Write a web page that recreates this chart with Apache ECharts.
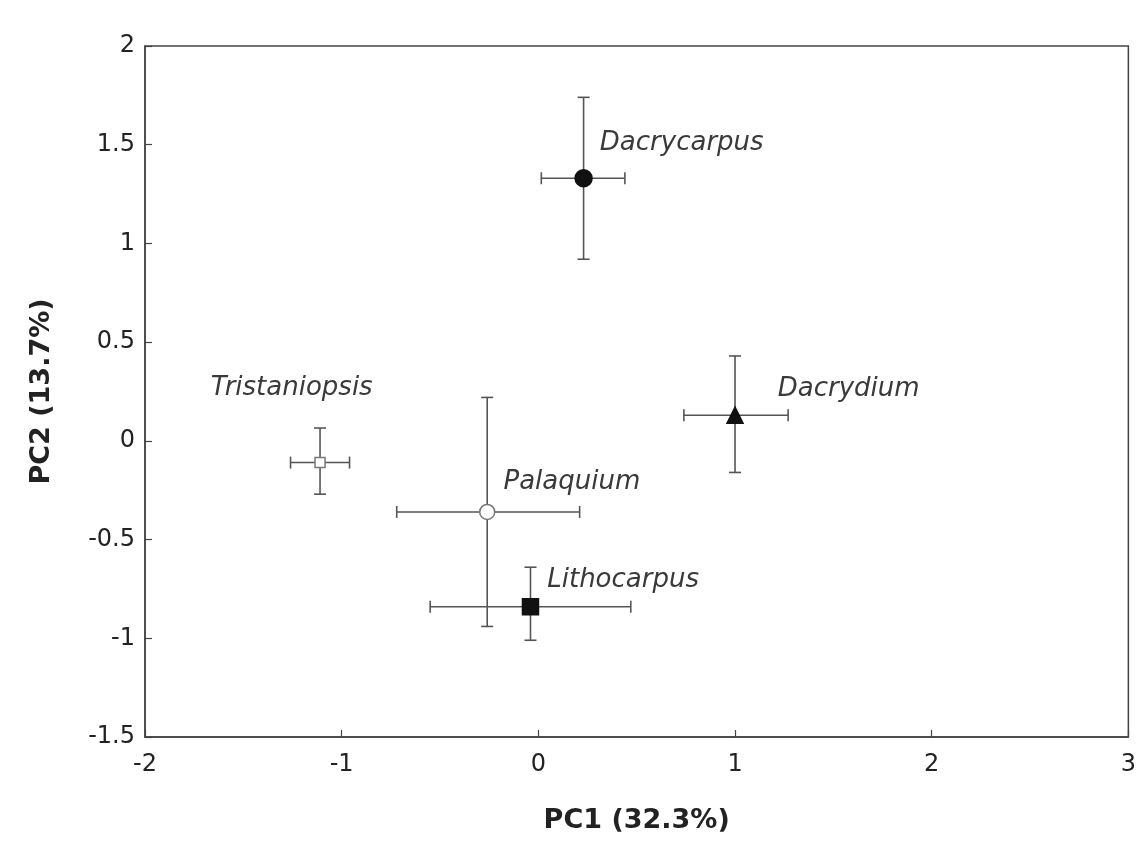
<!DOCTYPE html>
<html>
<head>
<meta charset="utf-8">
<script src="https://cdn.jsdelivr.net/npm/echarts@6/dist/echarts.min.js"></script>
<style>html,body{margin:0;padding:0;background:#fff;}#c{width:1139px;height:842px;}</style>
</head>
<body>
<div id="c"></div>
<script>
var genera = ['Dacrycarpus', 'Dacrydium', 'Tristaniopsis', 'Palaquium', 'Lithocarpus'];
var pc1 = [0.23, 1.0, -1.11, -0.26, -0.04];
var pc2 = [1.33, 0.13, -0.11, -0.36, -0.84];
var pc1Low = [0.015, 0.74, -1.26, -0.72, -0.55];
var pc1High = [0.44, 1.27, -0.96, 0.21, 0.47];
var pc2Low = [0.92, -0.16, -0.27, -0.94, -1.01];
var pc2High = [1.74, 0.43, 0.065, 0.22, -0.64];

var symbols = ['circle', 'triangle', 'rect', 'circle', 'rect'];
var sizes = [17, 16, 10, 15, 16];
var fills = ['#111', '#111', '#fff', '#fff', '#111'];
var borders = ['#111', '#111', '#777', '#777', '#111'];
var labelOffsets = [[2, -35], [29, -26], [-120, -74], [3, -30], [3, -26]];

var errData = genera.map(function (g, i) {
  return [pc1[i], pc2[i], pc1Low[i], pc1High[i], pc2Low[i], pc2High[i]];
});

var pointData = genera.map(function (g, i) {
  return {
    name: g,
    value: [pc1[i], pc2[i]],
    symbol: symbols[i],
    symbolSize: sizes[i],
    itemStyle: { color: fills[i], borderColor: borders[i], borderWidth: 1.5, opacity: 1 },
    label: { offset: labelOffsets[i] }
  };
});

var chart = echarts.init(document.getElementById('c'));
var lineColor = '#555';
var fontFam = 'DejaVu Sans';
chart.setOption({
  animation: false,
  grid: { left: 145, right: 5, top: 46, bottom: 105, show: true, borderColor: '#444', borderWidth: 1.5, backgroundColor: 'transparent' },
  xAxis: {
    type: 'value', min: -2, max: 3, interval: 1,
    name: 'PC1 (32.3%)', nameLocation: 'middle', nameGap: 70,
    nameTextStyle: { fontFamily: fontFam, fontWeight: 'bold', fontSize: 27, color: '#222' },
    axisLine: { show: true, onZero: false, lineStyle: { color: '#444', width: 1.5 } },
    axisTick: { show: true, inside: true, length: 7, lineStyle: { color: '#444', width: 1.2 } },
    axisLabel: { fontFamily: fontFam, fontSize: 24, color: '#222', margin: 16 },
    splitLine: { show: false }
  },
  yAxis: {
    type: 'value', min: -1.5, max: 2, interval: 0.5,
    name: 'PC2 (13.7%)', nameLocation: 'middle', nameGap: 90,
    nameTextStyle: { fontFamily: fontFam, fontWeight: 'bold', fontSize: 27, color: '#222' },
    axisLine: { show: true, onZero: false, lineStyle: { color: '#444', width: 1.5 } },
    axisTick: { show: true, inside: true, length: 7, lineStyle: { color: '#444', width: 1.2 } },
    axisLabel: { fontFamily: fontFam, fontSize: 24, color: '#222', margin: 10 },
    splitLine: { show: false }
  },
  series: [
    {
      type: 'custom',
      data: errData,
      z: 2,
      renderItem: function (params, api) {
        var x = api.value(0), y = api.value(1);
        var xl = api.coord([api.value(2), y]);
        var xh = api.coord([api.value(3), y]);
        var yl = api.coord([x, api.value(4)]);
        var yh = api.coord([x, api.value(5)]);
        var cap = 6;
        var st = { stroke: lineColor, lineWidth: 1.6 };
        return {
          type: 'group',
          children: [
            { type: 'line', shape: { x1: xl[0], y1: xl[1], x2: xh[0], y2: xh[1] }, style: st },
            { type: 'line', shape: { x1: xl[0], y1: xl[1] - cap, x2: xl[0], y2: xl[1] + cap }, style: st },
            { type: 'line', shape: { x1: xh[0], y1: xh[1] - cap, x2: xh[0], y2: xh[1] + cap }, style: st },
            { type: 'line', shape: { x1: yl[0], y1: yl[1], x2: yh[0], y2: yh[1] }, style: st },
            { type: 'line', shape: { x1: yl[0] - cap, y1: yl[1], x2: yl[0] + cap, y2: yl[1] }, style: st },
            { type: 'line', shape: { x1: yh[0] - cap, y1: yh[1], x2: yh[0] + cap, y2: yh[1] }, style: st }
          ]
        };
      }
    },
    {
      type: 'scatter',
      z: 3,
      data: pointData,
      label: {
        show: true, position: 'right',
        formatter: '{b}',
        fontFamily: fontFam, fontStyle: 'italic', fontSize: 26, color: '#3a3a3a'
      }
    }
  ]
});
</script>
</body>
</html>
